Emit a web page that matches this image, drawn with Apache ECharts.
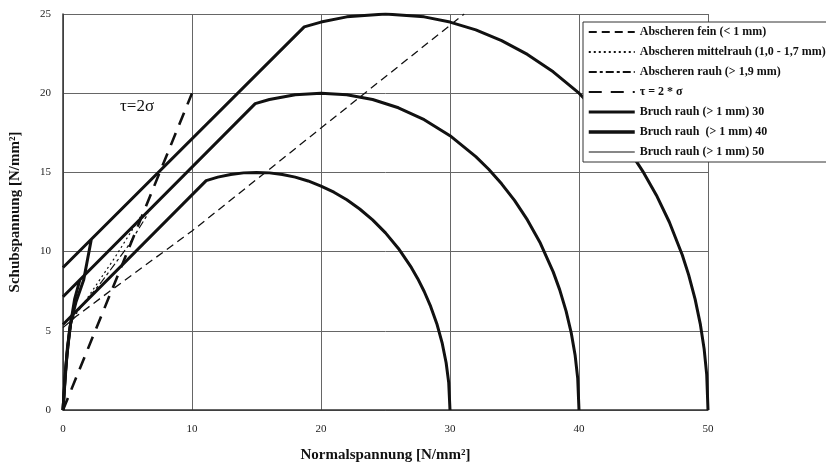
<!DOCTYPE html>
<html>
<head>
<meta charset="utf-8">
<script src="https://cdn.jsdelivr.net/npm/echarts@6/dist/echarts.min.js"></script>
<style>html,body{margin:0;padding:0;background:#fff}#c{width:826px;height:469px}</style>
</head>
<body>
<div id="c"></div>
<script>
// ---- data ----
const xTicks = [0, 10, 20, 30, 40, 50];
const yTicks = [0, 5, 10, 15, 20, 25];
const seriesNames = [
  'Abscheren fein (< 1 mm)',
  'Abscheren mittelrauh (1,0 - 1,7 mm)',
  'Abscheren rauh (> 1,9 mm)',
  'τ = 2 * σ',
  'Bruch rauh (> 1 mm) 30',
  'Bruch rauh  (> 1 mm) 40',
  'Bruch rauh (> 1 mm) 50'
];
const abscherenFein = [[0,5.2],[1,5.9],[3.8,7.6],[10,11.3],[20,17.8],[31.1,25]];
const abscherenMittel = [[0.8,5.8],[2,7.2],[4,9.6],[6,12.2]];
const abscherenRauh = [[1.2,6.3],[3,8.1],[5,10.3],[6.6,12.4]];
const tau2sigma = [[0,0],[10,20]];

const bruch30Start = [[0,0],[0.15,2],[0.35,4],[0.6,5.5],[0.8,6.05]];
const bruch30Main = [[0,5.4],[11.1,14.48],[12,14.7],[13,14.87],[14,14.97],[15,15],[16,14.97],[17,14.87],[18,14.7],[19,14.46],[20,14.14],[21,13.75],[22,13.27],[23,12.69],[24,12.0],[25,11.18],[26,10.2],[27,9.0],[27.5,8.29],[28,7.48],[28.5,6.54],[29,5.39],[29.4,4.2],[29.7,2.98],[29.9,1.73],[30,0]];

const bruch40Start = [[0,0],[0.2,2.5],[0.5,5],[0.9,7],[1.3,8.2]];
const bruch40Main = [[0,7.15],[14.9,19.34],[16,19.6],[18,19.9],[20,20],[22,19.9],[24,19.6],[26,19.08],[28,18.33],[30,17.32],[32,16.0],[33,15.2],[34,14.28],[35,13.23],[36,12.0],[37,10.54],[38,8.72],[38.5,7.6],[39,6.24],[39.4,4.86],[39.7,3.45],[39.9,2.0],[40,0]];

const bruch50Start = [[0,0],[0.3,3.5],[0.6,5.5],[1.0,6.8],[1.6,8.2],[2.2,10.8]];
const bruch50Main = [[0,9.0],[18.7,24.19],[20,24.49],[22,24.82],[25,25],[28,24.82],[30,24.49],[32,24.0],[34,23.32],[36,22.45],[38,21.35],[40,20.0],[42,18.33],[43,17.35],[44,16.25],[45,15.0],[46,13.56],[47,11.87],[48,9.8],[48.5,8.53],[49,7.0],[49.4,5.44],[49.7,3.86],[49.9,2.23],[50,0]];

// ---- chart ----
const GAP = [[null, null]];
const serif = 'Liberation Serif';
const ink = '#111';
function lineSeries(name, data, width, type) {
  return {
    name, type: 'line', data, showSymbol: false, symbol: 'none',
    connectNulls: false, animation: false,
    lineStyle: { color: ink, width, type },
    itemStyle: { color: ink }
  };
}
const chart = echarts.init(document.getElementById('c'), null, { renderer: 'canvas' });
chart.setOption({
  backgroundColor: '#fff',
  animation: false,
  grid: { left: 61, right: 118, top: 14, bottom: 59 },
  xAxis: {
    type: 'value', min: xTicks[0], max: xTicks[xTicks.length - 1], interval: xTicks[1] - xTicks[0],
    name: 'Normalspannung [N/mm²]', nameLocation: 'middle', nameGap: 38,
    nameTextStyle: { fontFamily: serif, fontSize: 15, fontWeight: 'bold', color: ink },
    axisLine: { lineStyle: { color: '#333', width: 1.5 } },
    axisTick: { show: false },
    axisLabel: { fontFamily: serif, fontSize: 11, color: '#222', margin: 14 },
    splitLine: { show: true, lineStyle: { color: '#666', width: 1 } }
  },
  yAxis: {
    type: 'value', min: yTicks[0], max: yTicks[yTicks.length - 1], interval: yTicks[1] - yTicks[0],
    name: 'Schubspannung [N/mm²]', nameLocation: 'middle', nameGap: 40,
    nameTextStyle: { fontFamily: serif, fontSize: 15, fontWeight: 'bold', color: ink },
    axisLine: { show: true, lineStyle: { color: '#333', width: 1.5 } },
    axisTick: { show: false },
    axisLabel: { fontFamily: serif, fontSize: 11, color: '#222', margin: 12 },
    splitLine: { show: true, lineStyle: { color: '#666', width: 1 } }
  },
  legend: {
    orient: 'vertical', left: 583, top: 22,
    backgroundColor: '#fff', borderColor: '#333', borderWidth: 1,
    padding: [4, 6, 4, 4],
    itemWidth: 46, itemHeight: 12, itemGap: 8,
    itemStyle: { opacity: 0 },
    textStyle: { fontFamily: serif, fontSize: 12, fontWeight: 'bold', color: ink },
    data: [
      { name: seriesNames[0] },
      { name: seriesNames[1] },
      { name: seriesNames[2] },
      { name: seriesNames[3] },
      { name: seriesNames[4], lineStyle: { width: 3, color: ink } },
      { name: seriesNames[5], lineStyle: { width: 3.5, color: ink } },
      { name: seriesNames[6], lineStyle: { width: 1.2, color: ink } }
    ]
  },
  graphic: [{
    type: 'text', left: 120, top: 98,
    style: { text: 'τ=2σ', font: '17px "Liberation Serif"', fill: ink }
  }],
  series: [
    lineSeries(seriesNames[0], abscherenFein, 1.3, [8, 5]),
    lineSeries(seriesNames[1], abscherenMittel, 1.2, [2, 3]),
    lineSeries(seriesNames[2], abscherenRauh, 1.2, [8, 3, 3, 3]),
    lineSeries(seriesNames[3], tau2sigma, 2.6, [13, 9]),
    lineSeries(seriesNames[4], bruch30Start.concat(GAP, bruch30Main), 3, 'solid'),
    lineSeries(seriesNames[5], bruch40Start.concat(GAP, bruch40Main), 3, 'solid'),
    lineSeries(seriesNames[6], bruch50Start.concat(GAP, bruch50Main), 3, 'solid')
  ]
});
</script>
</body>
</html>
